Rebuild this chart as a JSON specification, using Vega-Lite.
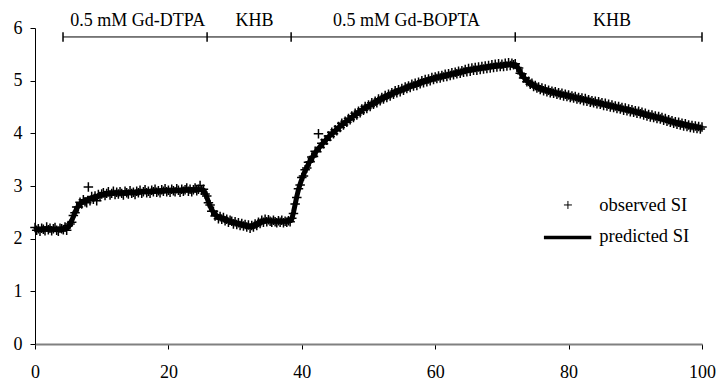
{
"$schema": "https://vega.github.io/schema/vega-lite/v6.json",
"width": 667, "height": 316,
"autosize": "none",
"padding": {"left": 35, "top": 28, "right": 18, "bottom": 39},
"background": "white",
"config": {"view": {"stroke": null}, "font": "Liberation Serif",
  "axis": {"grid": false, "title": null, "labelFont": "Liberation Serif", "labelFontSize": 18, "labelColor": "black", "tickSize": 5, "labelFlush": false, "labelOverlap": false}},
"datasets": {
"obs": [
{"t":0,"o":2.21},{"t":0.25,"o":2.16},{"t":0.5,"o":2.19},{"t":0.75,"o":2.14},{"t":1,"o":2.2},{"t":1.25,"o":2.18},{"t":1.5,"o":2.15},{"t":1.75,"o":2.22},{"t":2,"o":2.17},{"t":2.25,"o":2.2},{"t":2.5,"o":2.15},{"t":2.75,"o":2.19},{"t":3,"o":2.21},{"t":3.25,"o":2.16},{"t":3.5,"o":2.14},{"t":3.75,"o":2.2},{"t":4,"o":2.19},{"t":4.25,"o":2.17},{"t":4.5,"o":2.22},{"t":4.75,"o":2.16},
{"t":5,"o":2.25},{"t":5.25,"o":2.28},{"t":5.5,"o":2.31},{"t":5.75,"o":2.44},{"t":6,"o":2.49},{"t":6.25,"o":2.6},{"t":6.5,"o":2.6},{"t":6.75,"o":2.69},{"t":7,"o":2.66},{"t":7.25,"o":2.74},{"t":7.5,"o":2.7},{"t":7.75,"o":2.68},{"t":8,"o":2.98},{"t":8.25,"o":2.72},{"t":8.5,"o":2.8},{"t":8.75,"o":2.75},{"t":9,"o":2.81},{"t":9.25,"o":2.72},{"t":9.5,"o":2.84},{"t":9.75,"o":2.8},
{"t":10,"o":2.85},{"t":10.25,"o":2.87},{"t":10.5,"o":2.82},{"t":10.75,"o":2.86},{"t":11,"o":2.89},{"t":11.25,"o":2.83},{"t":11.5,"o":2.86},{"t":11.75,"o":2.9},{"t":12,"o":2.84},{"t":12.25,"o":2.88},{"t":12.5,"o":2.85},{"t":12.75,"o":2.89},{"t":13,"o":2.86},{"t":13.25,"o":2.83},{"t":13.5,"o":2.9},{"t":13.75,"o":2.87},{"t":14,"o":2.85},{"t":14.25,"o":2.91},{"t":14.5,"o":2.86},{"t":14.75,"o":2.88},
{"t":15,"o":2.84},{"t":15.25,"o":2.9},{"t":15.5,"o":2.87},{"t":15.75,"o":2.92},{"t":16,"o":2.86},{"t":16.25,"o":2.89},{"t":16.5,"o":2.93},{"t":16.75,"o":2.87},{"t":17,"o":2.9},{"t":17.25,"o":2.86},{"t":17.5,"o":2.92},{"t":17.75,"o":2.89},{"t":18,"o":2.94},{"t":18.25,"o":2.88},{"t":18.5,"o":2.91},{"t":18.75,"o":2.87},{"t":19,"o":2.93},{"t":19.25,"o":2.9},{"t":19.5,"o":2.95},{"t":19.75,"o":2.89},
{"t":20,"o":2.92},{"t":20.25,"o":2.88},{"t":20.5,"o":2.94},{"t":20.75,"o":2.91},{"t":21,"o":2.89},{"t":21.25,"o":2.95},{"t":21.5,"o":2.92},{"t":21.75,"o":2.88},{"t":22,"o":2.94},{"t":22.25,"o":2.9},{"t":22.5,"o":2.93},{"t":22.75,"o":2.96},{"t":23,"o":2.9},{"t":23.25,"o":2.94},{"t":23.5,"o":2.89},{"t":23.75,"o":2.93},{"t":24,"o":2.96},{"t":24.25,"o":2.91},{"t":24.5,"o":2.94},{"t":24.75,"o":3.01},
{"t":25,"o":2.92},{"t":25.25,"o":2.94},{"t":25.5,"o":2.85},{"t":25.75,"o":2.81},{"t":26,"o":2.68},{"t":26.25,"o":2.64},{"t":26.5,"o":2.52},{"t":26.75,"o":2.52},{"t":27,"o":2.43},{"t":27.25,"o":2.45},{"t":27.5,"o":2.38},{"t":27.75,"o":2.42},{"t":28,"o":2.37},{"t":28.25,"o":2.4},{"t":28.5,"o":2.34},{"t":28.75,"o":2.37},{"t":29,"o":2.31},{"t":29.25,"o":2.35},{"t":29.5,"o":2.33},{"t":29.75,"o":2.28},
{"t":30,"o":2.32},{"t":30.25,"o":2.27},{"t":30.5,"o":2.3},{"t":30.75,"o":2.25},{"t":31,"o":2.29},{"t":31.25,"o":2.24},{"t":31.5,"o":2.27},{"t":31.75,"o":2.22},{"t":32,"o":2.26},{"t":32.25,"o":2.2},{"t":32.5,"o":2.25},{"t":32.75,"o":2.22},{"t":33,"o":2.28},{"t":33.25,"o":2.25},{"t":33.5,"o":2.31},{"t":33.75,"o":2.29},{"t":34,"o":2.35},{"t":34.25,"o":2.31},{"t":34.5,"o":2.37},{"t":34.75,"o":2.32},
{"t":35,"o":2.36},{"t":35.25,"o":2.33},{"t":35.5,"o":2.31},{"t":35.75,"o":2.35},{"t":36,"o":2.32},{"t":36.25,"o":2.3},{"t":36.5,"o":2.34},{"t":36.75,"o":2.31},{"t":37,"o":2.35},{"t":37.25,"o":2.3},{"t":37.5,"o":2.33},{"t":37.75,"o":2.31},{"t":38,"o":2.34},{"t":38.25,"o":2.32},{"t":38.5,"o":2.39},{"t":38.75,"o":2.48},{"t":39,"o":2.66},{"t":39.25,"o":2.78},{"t":39.5,"o":2.95},{"t":39.75,"o":3.02},
{"t":40,"o":3.16},{"t":40.25,"o":3.19},{"t":40.5,"o":3.31},{"t":40.75,"o":3.34},{"t":41,"o":3.45},{"t":41.25,"o":3.46},{"t":41.5,"o":3.55},{"t":41.75,"o":3.56},{"t":42,"o":3.66},{"t":42.25,"o":3.65},{"t":42.5,"o":3.99},{"t":42.75,"o":3.73},{"t":43,"o":3.81},{"t":43.25,"o":3.8},{"t":43.5,"o":3.88},{"t":43.75,"o":3.87},{"t":44,"o":3.95},{"t":44.25,"o":3.94},{"t":44.5,"o":4.02},{"t":44.75,"o":3.99},
{"t":45,"o":4.07},{"t":45.25,"o":4.05},{"t":45.5,"o":4.13},{"t":45.75,"o":4.11},{"t":46,"o":4.19},{"t":46.25,"o":4.16},{"t":46.5,"o":4.23},{"t":46.75,"o":4.21},{"t":47,"o":4.28},{"t":47.25,"o":4.26},{"t":47.5,"o":4.33},{"t":47.75,"o":4.3},{"t":48,"o":4.38},{"t":48.25,"o":4.35},{"t":48.5,"o":4.42},{"t":48.75,"o":4.39},{"t":49,"o":4.46},{"t":49.25,"o":4.44},{"t":49.5,"o":4.51},{"t":49.75,"o":4.47},
{"t":50,"o":4.54},{"t":50.25,"o":4.51},{"t":50.5,"o":4.58},{"t":50.75,"o":4.55},{"t":51,"o":4.61},{"t":51.25,"o":4.58},{"t":51.5,"o":4.65},{"t":51.75,"o":4.62},{"t":52,"o":4.68},{"t":52.25,"o":4.65},{"t":52.5,"o":4.72},{"t":52.75,"o":4.68},{"t":53,"o":4.74},{"t":53.25,"o":4.71},{"t":53.5,"o":4.77},{"t":53.75,"o":4.74},{"t":54,"o":4.81},{"t":54.25,"o":4.77},{"t":54.5,"o":4.83},{"t":54.75,"o":4.79},
{"t":55,"o":4.85},{"t":55.25,"o":4.82},{"t":55.5,"o":4.88},{"t":55.75,"o":4.85},{"t":56,"o":4.9},{"t":56.25,"o":4.87},{"t":56.5,"o":4.93},{"t":56.75,"o":4.9},{"t":57,"o":4.95},{"t":57.25,"o":4.91},{"t":57.5,"o":4.97},{"t":57.75,"o":4.94},{"t":58,"o":5.0},{"t":58.25,"o":4.96},{"t":58.5,"o":5.02},{"t":58.75,"o":4.98},{"t":59,"o":5.03},{"t":59.25,"o":5.0},{"t":59.5,"o":5.06},{"t":59.75,"o":5.02},
{"t":60,"o":5.07},{"t":60.25,"o":5.04},{"t":60.5,"o":5.09},{"t":60.75,"o":5.05},{"t":61,"o":5.1},{"t":61.25,"o":5.07},{"t":61.5,"o":5.12},{"t":61.75,"o":5.08},{"t":62,"o":5.13},{"t":62.25,"o":5.1},{"t":62.5,"o":5.15},{"t":62.75,"o":5.11},{"t":63,"o":5.16},{"t":63.25,"o":5.13},{"t":63.5,"o":5.18},{"t":63.75,"o":5.14},{"t":64,"o":5.19},{"t":64.25,"o":5.16},{"t":64.5,"o":5.21},{"t":64.75,"o":5.17},
{"t":65,"o":5.23},{"t":65.25,"o":5.18},{"t":65.5,"o":5.24},{"t":65.75,"o":5.2},{"t":66,"o":5.25},{"t":66.25,"o":5.2},{"t":66.5,"o":5.26},{"t":66.75,"o":5.21},{"t":67,"o":5.27},{"t":67.25,"o":5.22},{"t":67.5,"o":5.28},{"t":67.75,"o":5.23},{"t":68,"o":5.29},{"t":68.25,"o":5.24},{"t":68.5,"o":5.3},{"t":68.75,"o":5.25},{"t":69,"o":5.31},{"t":69.25,"o":5.26},{"t":69.5,"o":5.32},{"t":69.75,"o":5.27},
{"t":70,"o":5.31},{"t":70.25,"o":5.27},{"t":70.5,"o":5.33},{"t":70.75,"o":5.28},{"t":71,"o":5.34},{"t":71.25,"o":5.29},{"t":71.5,"o":5.33},{"t":71.75,"o":5.3},{"t":72,"o":5.32},{"t":72.25,"o":5.25},{"t":72.5,"o":5.24},{"t":72.75,"o":5.14},{"t":73,"o":5.13},{"t":73.25,"o":5.05},{"t":73.5,"o":5.05},{"t":73.75,"o":4.98},{"t":74,"o":4.99},{"t":74.25,"o":4.93},{"t":74.5,"o":4.95},{"t":74.75,"o":4.89},
{"t":75,"o":4.91},{"t":75.25,"o":4.86},{"t":75.5,"o":4.88},{"t":75.75,"o":4.83},{"t":76,"o":4.86},{"t":76.25,"o":4.81},{"t":76.5,"o":4.84},{"t":76.75,"o":4.79},{"t":77,"o":4.82},{"t":77.25,"o":4.77},{"t":77.5,"o":4.8},{"t":77.75,"o":4.76},{"t":78,"o":4.79},{"t":78.25,"o":4.74},{"t":78.5,"o":4.77},{"t":78.75,"o":4.73},{"t":79,"o":4.76},{"t":79.25,"o":4.71},{"t":79.5,"o":4.74},{"t":79.75,"o":4.7},
{"t":80,"o":4.73},{"t":80.25,"o":4.68},{"t":80.5,"o":4.71},{"t":80.75,"o":4.67},{"t":81,"o":4.7},{"t":81.25,"o":4.65},{"t":81.5,"o":4.68},{"t":81.75,"o":4.64},{"t":82,"o":4.67},{"t":82.25,"o":4.62},{"t":82.5,"o":4.66},{"t":82.75,"o":4.61},{"t":83,"o":4.64},{"t":83.25,"o":4.59},{"t":83.5,"o":4.62},{"t":83.75,"o":4.58},{"t":84,"o":4.61},{"t":84.25,"o":4.56},{"t":84.5,"o":4.6},{"t":84.75,"o":4.55},
{"t":85,"o":4.58},{"t":85.25,"o":4.53},{"t":85.5,"o":4.57},{"t":85.75,"o":4.52},{"t":86,"o":4.55},{"t":86.25,"o":4.5},{"t":86.5,"o":4.54},{"t":86.75,"o":4.49},{"t":87,"o":4.52},{"t":87.25,"o":4.47},{"t":87.5,"o":4.51},{"t":87.75,"o":4.46},{"t":88,"o":4.49},{"t":88.25,"o":4.44},{"t":88.5,"o":4.48},{"t":88.75,"o":4.43},{"t":89,"o":4.46},{"t":89.25,"o":4.41},{"t":89.5,"o":4.45},{"t":89.75,"o":4.4},
{"t":90,"o":4.43},{"t":90.25,"o":4.38},{"t":90.5,"o":4.42},{"t":90.75,"o":4.37},{"t":91,"o":4.4},{"t":91.25,"o":4.35},{"t":91.5,"o":4.38},{"t":91.75,"o":4.33},{"t":92,"o":4.36},{"t":92.25,"o":4.31},{"t":92.5,"o":4.35},{"t":92.75,"o":4.3},{"t":93,"o":4.33},{"t":93.25,"o":4.28},{"t":93.5,"o":4.32},{"t":93.75,"o":4.27},{"t":94,"o":4.3},{"t":94.25,"o":4.25},{"t":94.5,"o":4.28},{"t":94.75,"o":4.23},
{"t":95,"o":4.26},{"t":95.25,"o":4.21},{"t":95.5,"o":4.24},{"t":95.75,"o":4.19},{"t":96,"o":4.22},{"t":96.25,"o":4.17},{"t":96.5,"o":4.21},{"t":96.75,"o":4.16},{"t":97,"o":4.19},{"t":97.25,"o":4.14},{"t":97.5,"o":4.18},{"t":97.75,"o":4.13},{"t":98,"o":4.16},{"t":98.25,"o":4.11},{"t":98.5,"o":4.15},{"t":98.75,"o":4.1},{"t":99,"o":4.14},{"t":99.25,"o":4.09},{"t":99.5,"o":4.13},{"t":99.75,"o":4.08},{"t":100,"o":4.12}
],
"pred": [
{"t":0,"p":2.18},{"t":4.5,"p":2.18},{"t":4.75,"p":2.19},{"t":5,"p":2.22},{"t":5.25,"p":2.27},{"t":5.5,"p":2.34},{"t":5.75,"p":2.42},{"t":6,"p":2.5},{"t":6.25,"p":2.57},{"t":6.5,"p":2.62},{"t":6.75,"p":2.66},{"t":7,"p":2.69},{"t":7.5,"p":2.73},{"t":8,"p":2.75},{"t":9,"p":2.79},{"t":10,"p":2.83},{"t":11,"p":2.855},{"t":12,"p":2.865},{"t":14,"p":2.875},{"t":16,"p":2.89},{"t":18,"p":2.9},{"t":20,"p":2.91},{"t":22,"p":2.92},{"t":24,"p":2.93},{"t":25,"p":2.93},{"t":25.25,"p":2.92},{"t":25.5,"p":2.87},{"t":25.75,"p":2.79},{"t":26,"p":2.7},{"t":26.25,"p":2.62},{"t":26.5,"p":2.55},{"t":26.75,"p":2.5},{"t":27,"p":2.46},{"t":27.5,"p":2.41},{"t":28,"p":2.39},{"t":29,"p":2.34},{"t":30,"p":2.3},{"t":31,"p":2.27},{"t":32,"p":2.24},{"t":32.5,"p":2.24},{"t":33,"p":2.26},{"t":33.5,"p":2.29},{"t":34,"p":2.32},{"t":34.5,"p":2.34},{"t":35,"p":2.34},{"t":36,"p":2.33},{"t":38,"p":2.33},{"t":38.25,"p":2.34},{"t":38.5,"p":2.37},{"t":38.75,"p":2.5},{"t":39,"p":2.65},{"t":39.25,"p":2.8},{"t":39.5,"p":2.93},{"t":39.75,"p":3.04},{"t":40,"p":3.13},{"t":40.5,"p":3.29},{"t":41,"p":3.42},{"t":41.5,"p":3.53},{"t":42,"p":3.63},{"t":43,"p":3.79},{"t":44,"p":3.93},{"t":45,"p":4.05},{"t":46,"p":4.16},{"t":47,"p":4.26},{"t":48,"p":4.35},{"t":49,"p":4.44},{"t":50,"p":4.52},{"t":52,"p":4.66},{"t":54,"p":4.78},{"t":56,"p":4.88},{"t":58,"p":4.97},{"t":60,"p":5.05},{"t":62,"p":5.11},{"t":64,"p":5.17},{"t":66,"p":5.22},{"t":68,"p":5.26},{"t":70,"p":5.29},{"t":71.5,"p":5.31},{"t":72,"p":5.3},{"t":72.25,"p":5.27},{"t":72.5,"p":5.22},{"t":72.75,"p":5.16},{"t":73,"p":5.11},{"t":73.5,"p":5.03},{"t":74,"p":4.97},{"t":74.5,"p":4.93},{"t":75,"p":4.89},{"t":76,"p":4.84},{"t":78,"p":4.77},{"t":80,"p":4.71},{"t":85,"p":4.56},{"t":90,"p":4.41},{"t":95,"p":4.24},{"t":100,"p":4.1}
],
"phases": [
{"label":"0.5 mM Gd-DTPA","start":4.2,"end":25.8,"mid":15.4},
{"label":"KHB","start":25.8,"end":38.4,"mid":32.9},
{"label":"0.5 mM Gd-BOPTA","start":38.4,"end":72,"mid":55.7},
{"label":"KHB","start":72,"end":100,"mid":86.5}
],
"bounds": [{"b":4.2},{"b":25.8},{"b":38.4},{"b":72},{"b":100}],
"legend": [
{"series":"observed SI","sx":79.9,"lx":84.6,"ly":2.64,"x1":76.3,"x2":83.4},
{"series":"predicted SI","sx":79.9,"lx":84.6,"ly":2.05,"x1":76.3,"x2":83.4}
]
},
"layer": [
{
 "data": {"name": "obs"},
 "mark": {"type": "point", "shape": "M-1,0H1M0,-1V1", "filled": false, "stroke": "black", "strokeWidth": 1.5, "size": 90, "opacity": 1},
 "encoding": {
  "x": {"field": "t", "type": "quantitative", "scale": {"domain": [0, 100], "nice": false},
        "axis": {"values": [0, 20, 40, 60, 80, 100], "domainColor": "#808080", "domainWidth": 2, "tickColor": "black", "labelPadding": 14}},
  "y": {"field": "o", "type": "quantitative", "scale": {"domain": [0, 6], "nice": false},
        "axis": {"values": [0, 1, 2, 3, 4, 5, 6], "domainColor": "black", "tickColor": "black", "labelPadding": 8}}
 }
},
{
 "data": {"name": "pred"},
 "mark": {"type": "line", "color": "black", "strokeWidth": 5},
 "encoding": {
  "x": {"field": "t", "type": "quantitative", "scale": {"domain": [0, 100], "nice": false}},
  "y": {"field": "p", "type": "quantitative", "scale": {"domain": [0, 6], "nice": false}}
 }
},
{
 "data": {"name": "phases"},
 "mark": {"type": "rule", "color": "black", "strokeWidth": 1},
 "encoding": {
  "x": {"field": "start", "type": "quantitative", "scale": {"domain": [0, 100], "nice": false}},
  "x2": {"field": "end"},
  "y": {"datum": 5.83, "type": "quantitative", "scale": {"domain": [0, 6], "nice": false}}
 }
},
{
 "data": {"name": "bounds"},
 "mark": {"type": "rule", "color": "black", "strokeWidth": 1.5},
 "encoding": {
  "x": {"field": "b", "type": "quantitative", "scale": {"domain": [0, 100], "nice": false}},
  "y": {"datum": 5.74, "type": "quantitative", "scale": {"domain": [0, 6], "nice": false}},
  "y2": {"datum": 5.92}
 }
},
{
 "data": {"name": "phases"},
 "mark": {"type": "text", "font": "Liberation Serif", "fontSize": 18, "color": "black", "align": "center", "baseline": "alphabetic"},
 "encoding": {
  "x": {"field": "mid", "type": "quantitative", "scale": {"domain": [0, 100], "nice": false}},
  "y": {"datum": 6.03, "type": "quantitative", "scale": {"domain": [0, 6], "nice": false}},
  "text": {"field": "label"}
 }
},
{
 "data": {"name": "legend"},
 "transform": [{"filter": "datum.series == 'observed SI'"}],
 "mark": {"type": "point", "shape": "M-1,0H1M0,-1V1", "filled": false, "stroke": "black", "strokeWidth": 1, "size": 64, "opacity": 1},
 "encoding": {
  "x": {"field": "sx", "type": "quantitative", "scale": {"domain": [0, 100], "nice": false}},
  "y": {"field": "ly", "type": "quantitative", "scale": {"domain": [0, 6], "nice": false}}
 }
},
{
 "data": {"name": "legend"},
 "transform": [{"filter": "datum.series == 'predicted SI'"}],
 "mark": {"type": "rule", "color": "black", "strokeWidth": 3.5},
 "encoding": {
  "x": {"field": "x1", "type": "quantitative", "scale": {"domain": [0, 100], "nice": false}},
  "x2": {"field": "x2"},
  "y": {"datum": 2.02, "type": "quantitative", "scale": {"domain": [0, 6], "nice": false}}
 }
},
{
 "data": {"name": "legend"},
 "mark": {"type": "text", "font": "Liberation Serif", "fontSize": 18.5, "color": "black", "align": "left", "baseline": "middle"},
 "encoding": {
  "x": {"field": "lx", "type": "quantitative", "scale": {"domain": [0, 100], "nice": false}},
  "y": {"field": "ly", "type": "quantitative", "scale": {"domain": [0, 6], "nice": false}},
  "text": {"field": "series"}
 }
}
]
}
